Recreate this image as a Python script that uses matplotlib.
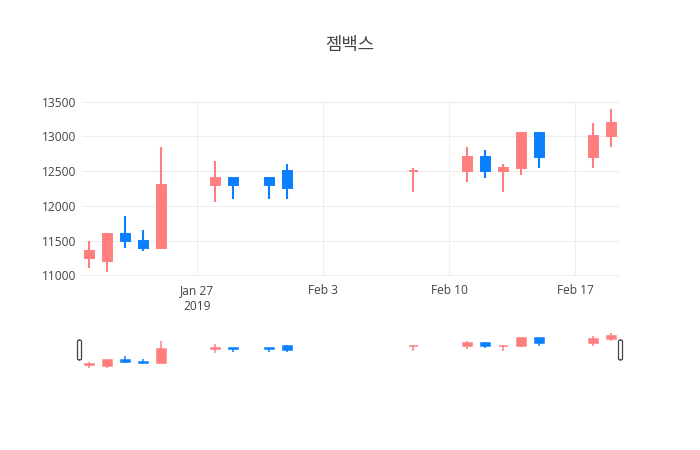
import matplotlib
matplotlib.use("Agg")
import matplotlib.pyplot as plt
import matplotlib.dates as mdates
from matplotlib.patches import FancyBboxPatch
import datetime as dt

title = "젬백스"
dates = ["2019-01-21", "2019-01-22", "2019-01-23", "2019-01-24", "2019-01-25",
         "2019-01-28", "2019-01-29", "2019-01-31", "2019-02-01", "2019-02-08",
         "2019-02-11", "2019-02-12", "2019-02-13", "2019-02-14", "2019-02-15",
         "2019-02-18", "2019-02-19"]
opens = [11250, 11200, 11600, 11500, 11400, 12300, 12400, 12400, 12500, 12500,
         12500, 12700, 12500, 12550, 13050, 12700, 13000]
highs = [11500, 11600, 11850, 11650, 12850, 12650, 12400, 12400, 12600, 12550,
         12850, 12800, 12600, 13050, 13050, 13200, 13400]
lows = [11100, 11050, 11400, 11350, 11400, 12050, 12100, 12100, 12100, 12200,
        12350, 12400, 12200, 12450, 12550, 12550, 12850]
closes = [11350, 11600, 11500, 11400, 12300, 12400, 12300, 12300, 12250, 12500,
          12700, 12500, 12550, 13050, 12700, 13000, 13200]
yticks = [11000, 11500, 12000, 12500, 13000, 13500]
xtick_dates = ["2019-01-27", "2019-02-03", "2019-02-10", "2019-02-17"]
xtick_labels = ["Jan 27\n2019", "Feb 3", "Feb 10", "Feb 17"]

INC = "#ff7f7f"
DEC = "#0a7fff"
TXT = "#444444"
GRID = "#eeeeee"

plt.rcParams['font.family'] = ['Open Sans', 'Noto Sans CJK KR', 'DejaVu Sans']

x = [mdates.date2num(dt.datetime.strptime(d, "%Y-%m-%d")) for d in dates]

# plotly-like increasing rule
colors = []
prev_inc = True
for i in range(len(x)):
    if closes[i] > opens[i]:
        inc = True
    elif closes[i] < opens[i]:
        inc = False
    else:
        if i > 0 and closes[i] != closes[i - 1]:
            inc = closes[i] > closes[i - 1]
        else:
            inc = prev_inc
    prev_inc = inc
    colors.append(INC if inc else DEC)

W, H = 700, 450
fig = plt.figure(figsize=(7, 4.5), dpi=100)
fig.patch.set_facecolor("white")

L, R = 82, 620
ax = fig.add_axes([L / W, 1 - 276 / H, (R - L) / W, (276 - 101) / H])
ax.set_facecolor("white")

x0 = mdates.date2num(dt.datetime(2019, 1, 27))
xlim = (x0 - 6.41, x0 + 23.48)


def draw(a, lw_wick, lw_body, width):
    for xi, o, h, l, c, col in zip(x, opens, highs, lows, closes, colors):
        a.vlines(xi, l, h, color=col, linewidth=lw_wick, zorder=3)
        bot = min(o, c)
        a.bar(xi, max(abs(c - o), 0.001), bottom=bot, width=width, color=col,
              edgecolor=col, linewidth=lw_body, zorder=4)


draw(ax, 1.5, 1.4, 0.5)
ax.set_xlim(*xlim)
ax.set_ylim(10990, 13510)
ax.set_yticks(yticks)
ax.set_yticklabels([str(v) for v in yticks])
xt = [mdates.date2num(dt.datetime.strptime(d, "%Y-%m-%d")) for d in xtick_dates]
ax.set_xticks(xt)
ax.set_xticklabels(xtick_labels)
ax.grid(True, color=GRID, linewidth=0.75)
ax.set_axisbelow(True)
for s in ax.spines.values():
    s.set_visible(False)
ax.tick_params(axis='both', length=0, colors=TXT, labelsize=8.64)
ax.tick_params(axis='y', pad=4)
ax.tick_params(axis='x', pad=6)
for lab in ax.get_xticklabels():
    lab.set_linespacing(1.25)

# range slider
sax = fig.add_axes([L / W, 1 - 370 / H, (R - L) / W, 40 / H])
sax.set_facecolor("white")
draw(sax, 1.1, 1.1, 0.5)
sax.set_xlim(*xlim)
sax.set_ylim(10940, 13580)
sax.set_xticks([])
sax.set_yticks([])
for s in sax.spines.values():
    s.set_visible(False)

for hx in (79.5, 620.5):
    p = FancyBboxPatch(((hx - 2) / W, 1 - 360 / H), 4 / W, 20 / H,
                       boxstyle="round,pad=0,rounding_size=0.003",
                       transform=fig.transFigure, facecolor="white",
                       edgecolor="#444444", linewidth=0.9, zorder=10)
    fig.add_artist(p)

fig.text(350 / W, 1 - 45 / H, title, ha="center", va="center", fontsize=12.8,
         color=TXT, family=['Noto Sans CJK KR', 'DejaVu Sans'])

fig.savefig("out.png", dpi=100, facecolor="white")
